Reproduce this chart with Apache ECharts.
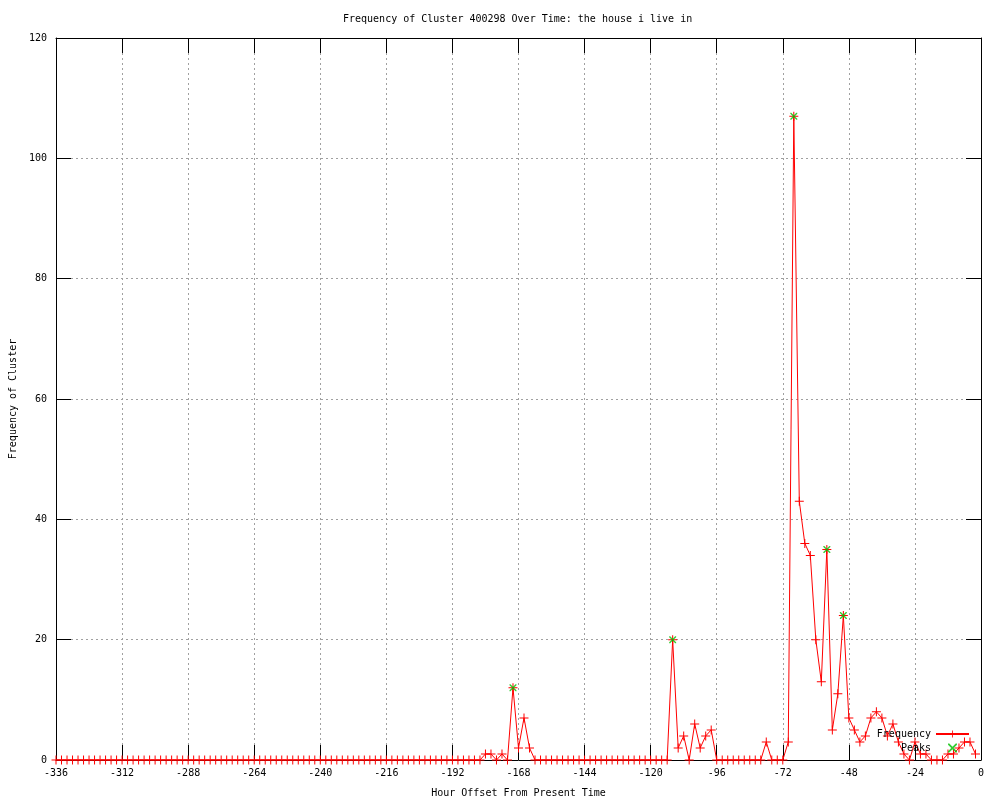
<!DOCTYPE html>
<html>
<head>
<meta charset="utf-8">
<script src="https://cdn.jsdelivr.net/npm/echarts@6/dist/echarts.min.js"></script>
<style>html,body{margin:0;padding:0;background:#fff}#c{width:1000px;height:800px}</style>
</head>
<body>
<div id="c"></div>
<script>
var hours = [
 -336,-334,-332,-330,-328,-326,-324,-322,-320,-318,-316,-314,
 -312,-310,-308,-306,-304,-302,-300,-298,-296,-294,-292,-290,
 -288,-286,-284,-282,-280,-278,-276,-274,-272,-270,-268,-266,
 -264,-262,-260,-258,-256,-254,-252,-250,-248,-246,-244,-242,
 -240,-238,-236,-234,-232,-230,-228,-226,-224,-222,-220,-218,
 -216,-214,-212,-210,-208,-206,-204,-202,-200,-198,-196,-194,
 -192,-190,-188,-186,-184,-182,-180,-178,-176,-174,-172,-170,
 -168,-166,-164,-162,-160,-158,-156,-154,-152,-150,-148,-146,
 -144,-142,-140,-138,-136,-134,-132,-130,-128,-126,-124,-122,
 -120,-118,-116,-114,-112,-110,-108,-106,-104,-102,-100,-98,
 -96,-94,-92,-90,-88,-86,-84,-82,-80,-78,-76,-74,
 -72,-70,-68,-66,-64,-62,-60,-58,-56,-54,-52,-50,
 -48,-46,-44,-42,-40,-38,-36,-34,-32,-30,-28,-26,
 -24,-22,-20,-18,-16,-14,-12,-10,-8,-6,-4,-2
];
var frequency = [
 0,0,0,0,0,0,0,0,0,0,0,0,
 0,0,0,0,0,0,0,0,0,0,0,0,
 0,0,0,0,0,0,0,0,0,0,0,0,
 0,0,0,0,0,0,0,0,0,0,0,0,
 0,0,0,0,0,0,0,0,0,0,0,0,
 0,0,0,0,0,0,0,0,0,0,0,0,
 0,0,0,0,0,0,1,1,0,1,0,12,
 2,7,2,0,0,0,0,0,0,0,0,0,
 0,0,0,0,0,0,0,0,0,0,0,0,
 0,0,0,0,20,2,4,0,6,2,4,5,
 0,0,0,0,0,0,0,0,0,3,0,0,
 0,3,107,43,36,34,20,13,35,5,11,24,
 7,5,3,4,7,8,7,4,6,3,1,0,
 3,1,1,0,0,0,1,1,2,3,3,1
];
var peakHours = [-170, -112, -68, -56, -50];
var peakValues = [12, 20, 107, 35, 24];

var FONT = 'DejaVu Sans Mono';
var freqData = hours.map(function(h, i){ return [h, frequency[i]]; });
var peakData = peakHours.map(function(h, i){ return [h, peakValues[i]]; });

var PLUS = 'path://M4,0h1v9h-1z M0,4h9v1h-9z';
var CROSS = 'path://M0,0 L1,0 L7,6 L7,7 L6,7 L0,1 Z M6,0 L7,0 L7,1 L1,7 L0,7 L0,6 Z';

function axisBase() {
  return {
    axisLine: {show: true, onZero: false, lineStyle: {color: '#000', width: 1}},
    axisTick: {show: true, inside: true, length: 15, lineStyle: {color: '#000', width: 1}}
  };
}

var chart = echarts.init(document.getElementById('c'), null, {renderer: 'canvas'});
chart.setOption({
  animation: false,
  backgroundColor: '#fff',
  title: {
    text: 'Frequency of Cluster 400298 Over Time: the house i live in',
    left: 338, top: 9,
    textStyle: {fontFamily: FONT, fontSize: 10, fontWeight: 'normal', color: '#000'}
  },
  legend: {
    data: ['Frequency', 'Peaks'],
    orient: 'vertical',
    right: 25, top: 724,
    itemWidth: 33, itemHeight: 9, itemGap: 4,
    align: 'right',
    textStyle: {fontFamily: FONT, fontSize: 10, color: '#000'}
  },
  grid: {left: 56, right: 19, top: 38, bottom: 40, containLabel: false, outerBoundsMode: 'none'},
  xAxis: [
    Object.assign(axisBase(), {
      type: 'value', position: 'bottom', min: -336, max: 0, interval: 24,
      name: 'Hour Offset From Present Time', nameLocation: 'middle', nameGap: 28,
      nameTextStyle: {fontFamily: FONT, fontSize: 10, color: '#000'},
      axisLabel: {fontFamily: FONT, fontSize: 10, color: '#000', margin: 8},
      splitLine: {show: true, lineStyle: {color: '#a0a0a0', type: [2, 3], width: 1}}
    }),
    Object.assign(axisBase(), {
      type: 'value', position: 'top', min: -336, max: 0, interval: 24,
      axisLabel: {show: false}, splitLine: {show: false}
    })
  ],
  yAxis: [
    Object.assign(axisBase(), {
      type: 'value', position: 'left', min: 0, max: 120, interval: 20,
      name: 'Frequency of Cluster', nameLocation: 'middle', nameGap: 38,
      nameTextStyle: {fontFamily: FONT, fontSize: 10, color: '#000'},
      axisLabel: {fontFamily: FONT, fontSize: 10, color: '#000', margin: 9},
      splitLine: {show: true, lineStyle: {color: '#a0a0a0', type: [2, 3], width: 1}}
    }),
    Object.assign(axisBase(), {
      type: 'value', position: 'right', min: 0, max: 120, interval: 20,
      axisLabel: {show: false}, splitLine: {show: false}
    })
  ],
  series: [
    {
      name: 'Frequency', type: 'line', data: freqData,
      xAxisIndex: 0, yAxisIndex: 0,
      showSymbol: true, showAllSymbol: true,
      symbol: PLUS, symbolSize: 9,
      itemStyle: {color: '#ff0000'},
      lineStyle: {color: '#ff0000', width: 1},
      z: 3
    },
    {
      name: 'Peaks', type: 'scatter', data: peakData,
      xAxisIndex: 0, yAxisIndex: 0,
      symbol: CROSS, symbolSize: 7,
      itemStyle: {color: '#00c000'},
      z: 4
    }
  ]
});
</script>
</body>
</html>
